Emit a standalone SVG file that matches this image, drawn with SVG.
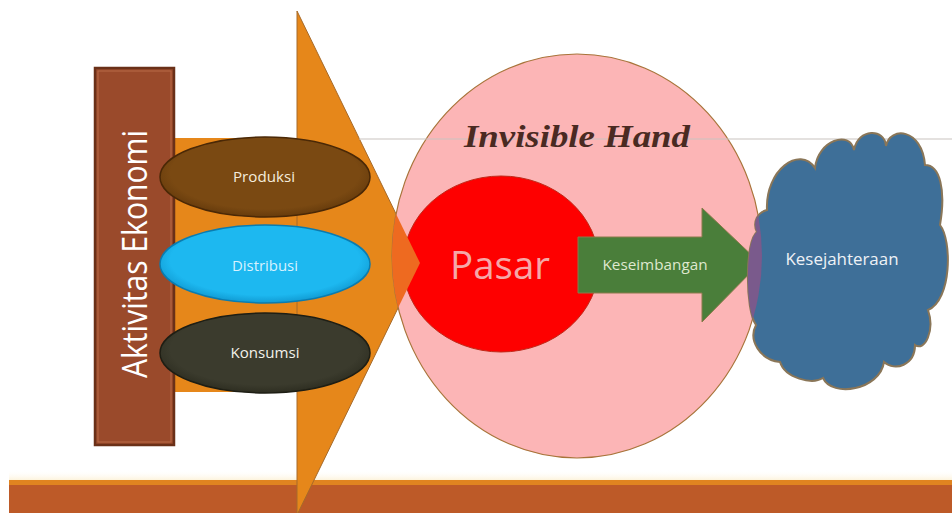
<svg xmlns="http://www.w3.org/2000/svg" width="952" height="513" viewBox="0 0 952 513">
  <defs>
    <style>
      .lbl { font-family: "Open Sans", "Liberation Sans", sans-serif; text-anchor: middle; }
      .big { fill: #ffffff; font-size: 34px; }
      .small { font-size: 15px; }
    </style>
    <linearGradient id="fadeCream" x1="0" y1="0" x2="0" y2="1">
      <stop offset="0" stop-color="#ffffff" stop-opacity="0"/>
      <stop offset="1" stop-color="#fdf3dc"/>
    </linearGradient>
    <radialGradient id="gProd" cx="0.5" cy="0.45" r="0.6">
      <stop offset="0.75" stop-color="#7a4912"/>
      <stop offset="1" stop-color="#5c3409"/>
    </radialGradient>
    <radialGradient id="gDist" cx="0.5" cy="0.45" r="0.6">
      <stop offset="0.75" stop-color="#1db8f0"/>
      <stop offset="1" stop-color="#0a8cc4"/>
    </radialGradient>
    <radialGradient id="gKons" cx="0.5" cy="0.45" r="0.6">
      <stop offset="0.75" stop-color="#3b3b2d"/>
      <stop offset="1" stop-color="#27271b"/>
    </radialGradient>
    <clipPath id="clipPink">
      <ellipse cx="577" cy="256" rx="185" ry="202"/>
    </clipPath>
    <path id="cloudShape" d="M 767 210
      C 765 170, 800 145, 815 168
      C 818 140, 850 130, 854 150
      C 858 128, 885 128, 886 146
      C 890 126, 922 128, 925 165
      C 940 165, 946 190, 940 225
      C 952 240, 952 300, 928 310
      C 935 330, 925 352, 915 345
      C 915 365, 895 372, 884 362
      C 880 390, 832 398, 823 378
      C 812 385, 785 378, 780 362
      C 760 360, 748 340, 756 325
      C 745 310, 745 240, 757 232
      C 752 222, 758 212, 767 210 Z"/>
  </defs>

  <rect width="952" height="513" fill="#ffffff"/>

  <!-- floor band -->
  <g id="floor">
    <rect x="9" y="470" width="943" height="10" fill="url(#fadeCream)"/>
    <rect x="9" y="480" width="943" height="33" fill="#bd5a28"/>
    <rect x="9" y="480" width="943" height="5" fill="#e08420"/>
  </g>

  <!-- large orange arrow: shaft + head -->
  <g id="flow-arrow">
    <rect x="172" y="138" width="127" height="254" fill="#e6871a"/>
    <polygon points="297,11 420,263 297,515" fill="#e6871a" stroke="#a66a2a" stroke-width="1"/>
  </g>

  <!-- economic activities column -->
  <g id="aktivitas">
    <rect x="95" y="68" width="79" height="377" fill="#9a4a2b" stroke="#6a3018" stroke-width="2.5"/>
    <rect x="98" y="71" width="73" height="371" fill="none" stroke="#b86a48" stroke-width="1"/>
    <text class="lbl big" transform="translate(147,254) rotate(-90)" textLength="248" lengthAdjust="spacingAndGlyphs">Aktivitas Ekonomi</text>
  </g>

  <g id="produksi">
    <ellipse cx="265" cy="177" rx="105" ry="40" fill="url(#gProd)" stroke="#4a2806" stroke-width="1.5"/>
    <text class="lbl small" x="264" y="182" fill="#f4ecdc" textLength="62" lengthAdjust="spacingAndGlyphs">Produksi</text>
  </g>

  <g id="distribusi">
    <ellipse cx="265" cy="264" rx="105" ry="39" fill="url(#gDist)" stroke="#0a7cb0" stroke-width="1.5"/>
    <text class="lbl small" x="265" y="271" fill="#d6f2ff" textLength="66" lengthAdjust="spacingAndGlyphs">Distribusi</text>
  </g>

  <g id="konsumsi">
    <ellipse cx="265" cy="353" rx="105" ry="40" fill="url(#gKons)" stroke="#1e1e14" stroke-width="1.5"/>
    <text class="lbl small" x="265" y="358" fill="#f2f2ea" textLength="69" lengthAdjust="spacingAndGlyphs">Konsumsi</text>
  </g>

  <!-- invisible hand circle -->
  <g id="invisible-hand">
    <ellipse cx="577" cy="256" rx="185" ry="202" fill="#fcb5b6" stroke="#a8743a" stroke-width="1.2"/>
  </g>

  <!-- thin guide line -->
  <g id="connectors">
    <line x1="359" y1="139" x2="952" y2="139" stroke="#c9c3c0" stroke-width="1.2"/>
  </g>

  <g id="invisible-hand-label">
    <text x="577" y="147" font-family="'Liberation Serif', 'DejaVu Serif', serif" font-style="italic" font-weight="bold" font-size="31" fill="#4a2a22" text-anchor="middle" textLength="226" lengthAdjust="spacingAndGlyphs">Invisible Hand</text>
  </g>

  <g id="pasar">
    <ellipse cx="501" cy="264" rx="98" ry="88" fill="#fe0000" stroke="#c02a1a" stroke-width="1"/>
    <!-- orange arrow tip where it enters the circles -->
    <polygon points="297,11 420,263 297,515" fill="#ee6a20" clip-path="url(#clipPink)"/>
    <text class="lbl" x="500" y="279" font-size="39" fill="#f5a8a8" textLength="100" lengthAdjust="spacingAndGlyphs">Pasar</text>
  </g>

  <g id="keseimbangan">
    <polygon points="578,237 702,237 702,208 760,263 702,322 702,293 578,293" fill="#4a7e3a" stroke="#8a7a4a" stroke-width="1"/>
    <text class="lbl small" x="655" y="270" fill="#dfe8cf" textLength="105" lengthAdjust="spacingAndGlyphs">Keseimbangan</text>
  </g>

  <g id="kesejahteraan">
    <use href="#cloudShape" fill="#3e6f98" stroke="#8a7658" stroke-width="2"/>
    <use href="#cloudShape" fill="#7a5a8c" clip-path="url(#clipPink)"/>
    <text class="lbl" x="842" y="265" font-size="16" fill="#eef2f6" textLength="113" lengthAdjust="spacingAndGlyphs">Kesejahteraan</text>
  </g>
</svg>
